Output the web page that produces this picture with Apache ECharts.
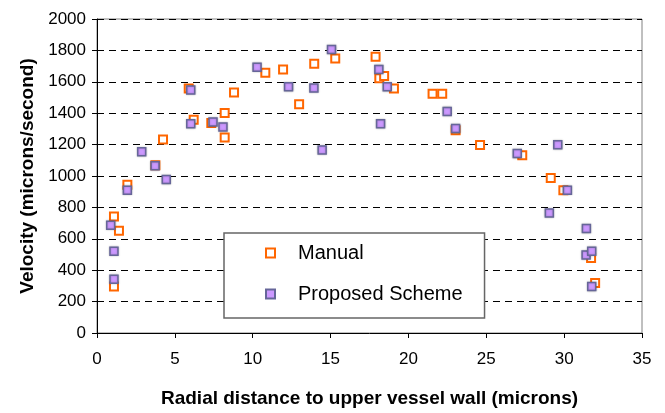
<!DOCTYPE html>
<html>
<head>
<meta charset="utf-8">
<script src="https://cdn.jsdelivr.net/npm/echarts@6/dist/echarts.min.js"></script>
<style>
    html, body { margin: 0; padding: 0; background: #fff; }
    #velocity { width: 665px; height: 413px; }
</style>
</head>
<body>
<div id="velocity"></div>
<script>
// manual measurements
var manualX = [1.09, 1.41, 1.09, 1.95, 3.75, 4.24, 5.89, 6.21, 7.34, 8.2, 8.2, 8.8, 10.81, 11.95, 12.98, 13.95, 15.3,
    17.89, 18.13, 18.44, 19.07, 21.55, 22.17, 23.03, 24.6, 27.31, 29.14, 29.95, 31.73, 31.99];
var manualY = [742, 652, 296, 945, 1068, 1233, 1558, 1358, 1338, 1402, 1245, 1532, 1658, 1679, 1457, 1715, 1748,
    1759, 1623, 1637, 1558, 1524, 1524, 1291, 1197, 1132, 987, 910, 478, 319];
// proposed scheme
var schemeX = [0.88, 1.09, 1.09, 1.95, 2.87, 3.73, 4.45, 6.02, 6.02, 7.45, 8.09, 10.28, 12.3, 13.93, 14.46, 15.06,
    18.1, 18.21, 18.64, 22.49, 23.03, 26.99, 29.05, 29.59, 30.21, 31.43, 31.41, 31.77, 31.77];
var schemeY = [686, 520, 342, 910, 1155, 1065, 977, 1547, 1333, 1344, 1312, 1692, 1568, 1560, 1166, 1805,
    1679, 1333, 1568, 1411, 1302, 1143, 765, 1199, 910, 665, 497, 520, 296];

function pairs(xs, ys) {
    var out = [];
    for (var i = 0; i < xs.length; i++) {
        out.push([xs[i], ys[i]]);
    }
    return out;
}

var font = 'Arial, "Liberation Sans", sans-serif';
var chart = echarts.init(document.getElementById('velocity'));
var option = {
    animation: false
    , backgroundColor: '#fff'
    , grid: {
        left: 97
        , right: 23
        , top: 19
        , bottom: 76
        , show: true
        , borderColor: '#808080'
        , borderWidth: 1
    }
    , legend: {
        orient: 'vertical'
        , left: 224
        , top: 233
        , padding: [10, 22, 14, 41]
        , itemGap: 21
        , itemWidth: 9
        , itemHeight: 9
        , borderColor: '#666'
        , borderWidth: 1.5
        , backgroundColor: '#fff'
        , textStyle: {
            fontFamily: font
            , fontSize: 20
            , color: '#000'
            , lineHeight: 20
            , padding: [0, 0, 0, 18]
        }
        , data: ['Manual', 'Proposed Scheme']
    }
    , xAxis: {
        type: 'value'
        , min: 0
        , max: 35
        , interval: 5
        , name: 'Radial distance to upper vessel wall (microns)'
        , nameLocation: 'middle'
        , nameGap: 56
        , nameTextStyle: {
            fontFamily: font
            , fontSize: 19
            , fontWeight: 'bold'
            , color: '#000'
        }
        , axisLine: { lineStyle: { color: '#000', width: 1 } }
        , axisTick: { show: true, inside: false, length: 5, lineStyle: { color: '#000' } }
        , axisLabel: { margin: 18, fontFamily: font, fontSize: 17, color: '#000' }
        , splitLine: { show: false }
    }
    , yAxis: {
        type: 'value'
        , min: 0
        , max: 2000
        , interval: 200
        , name: 'Velocity (microns/second)'
        , nameLocation: 'middle'
        , nameGap: 60
        , nameTextStyle: {
            fontFamily: font
            , fontSize: 19
            , fontWeight: 'bold'
            , color: '#000'
        }
        , axisLine: { show: true, lineStyle: { color: '#000', width: 1 } }
        , axisTick: { show: true, inside: false, length: 5, lineStyle: { color: '#000' } }
        , axisLabel: {
            margin: 11
            , fontFamily: font
            , fontSize: 17
            , color: '#000'
            , formatter: function (v) { return String(v); }
        }
        , splitLine: {
            show: true
            , lineStyle: { color: '#000', width: 1, type: [7, 5] }
        }
    }
    , series: [
        {
            name: 'Manual'
            , type: 'scatter'
            , symbol: 'rect'
            , symbolSize: 8
            , itemStyle: {
                color: '#fff'
                , borderColor: '#FF6600'
                , borderWidth: 2
                , opacity: 1
            }
            , data: pairs(manualX, manualY)
        }
        , {
            name: 'Proposed Scheme'
            , type: 'scatter'
            , symbol: 'rect'
            , symbolSize: 8
            , itemStyle: {
                color: '#CC99FF'
                , borderColor: '#666699'
                , borderWidth: 1.5
                , opacity: 1
                , shadowColor: 'rgba(0,0,0,0.25)'
                , shadowBlur: 2
            }
            , data: pairs(schemeX, schemeY)
        }
    ]
};
chart.setOption(option);
</script>
</body>
</html>
